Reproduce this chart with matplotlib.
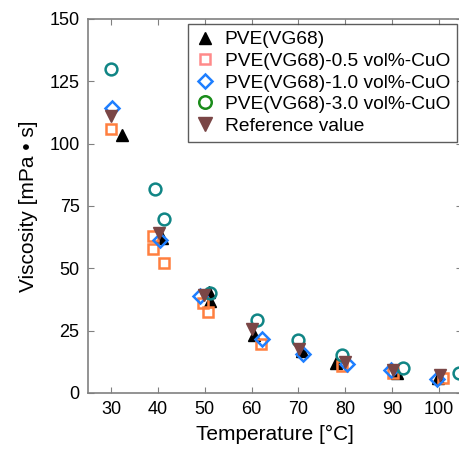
"""
Viscosity vs temperature for PVE(VG68) with CuO nanoparticles
"""

import matplotlib
matplotlib.use('Agg')
import matplotlib.pyplot as plt
from matplotlib.lines import Line2D

plt.rcParams['font.family'] = ['Liberation Sans', 'DejaVu Sans']

# PVE(VG68) base oil
base_T = [32.3, 40.8, 50.8, 51.0, 60.4, 70.7, 78.1, 91.0, 99.8]
base_V = [103.5, 62.0, 40.6, 37.0, 23.3, 16.6, 11.9, 8.0, 6.0]

# 0.5 vol% CuO
cuo05_T = [30.0, 38.9, 38.9, 41.3, 49.6, 50.6, 62.0, 79.2, 90.3, 100.9]
cuo05_V = [106.0, 62.8, 57.8, 52.0, 36.0, 32.6, 19.7, 10.6, 7.9, 5.8]

# 1.0 vol% CuO
cuo10_T = [30.2, 40.5, 49.0, 62.3, 71.0, 80.4, 89.8, 99.5]
cuo10_V = [114.2, 61.4, 38.9, 21.5, 15.6, 11.6, 9.0, 5.6]

# 3.0 vol% CuO
cuo30_T = [30.0, 39.4, 41.2, 51.1, 61.1, 69.8, 79.2, 92.4, 104.2]
cuo30_V = [130.0, 81.8, 69.8, 40.0, 29.3, 21.0, 15.2, 9.9, 7.9]

# reference values
ref_T = [30.0, 40.1, 49.8, 60.0, 70.2, 79.9, 90.3, 100.2]
ref_V = [111.0, 64.0, 39.3, 25.5, 17.6, 12.3, 9.2, 7.0]

labels = ['PVE(VG68)', 'PVE(VG68)-0.5 vol%-CuO', 'PVE(VG68)-1.0 vol%-CuO',
          'PVE(VG68)-3.0 vol%-CuO', 'Reference value']
x_ticks = [30, 40, 50, 60, 70, 80, 90, 100]
y_ticks = [0, 25, 50, 75, 100, 125, 150]

fig = plt.figure(figsize=(4.6, 4.5), dpi=100)
ax = fig.add_axes([0.191, 0.127, 0.814, 0.831])

ax.plot(base_T, base_V, '^', ms=8, color='black', ls='none')
ax.plot(cuo05_T, cuo05_V, 's', ms=7, mfc='none', mec='#FF7F3F', mew=1.8, ls='none')
ax.plot(cuo10_T, cuo10_V, 'D', ms=7, mfc='none', mec='#1E7FFF', mew=1.8, ls='none')
ax.plot(cuo30_T, cuo30_V, 'o', ms=8.5, mfc='none', mec='#108585', mew=1.8, ls='none')
ax.plot(ref_T, ref_V, 'v', ms=9, color='#7A4646', ls='none')

# legend uses slightly different colours than the data, as in the original
handles = [
    Line2D([], [], marker='^', ls='none', ms=9, color='black'),
    Line2D([], [], marker='s', ls='none', ms=7.5, mfc='none', mec='#FF8A8A', mew=1.8),
    Line2D([], [], marker='D', ls='none', ms=7.5, mfc='none', mec='#1E7FFF', mew=1.8),
    Line2D([], [], marker='o', ls='none', ms=9, mfc='none', mec='#1A8C1A', mew=1.8),
    Line2D([], [], marker='v', ls='none', ms=9.5, color='#7A4646'),
]
leg = ax.legend(handles, labels, loc='upper left', bbox_to_anchor=(0.268, 0.986),
                fontsize=13.8, frameon=True, fancybox=False, edgecolor='#333333',
                borderpad=0.35, labelspacing=0.22, handletextpad=0.45,
                handlelength=1.1, borderaxespad=0)
leg.get_frame().set_linewidth(1.0)

ax.set_xlim(25, 105)
ax.set_ylim(0, 150)
ax.set_xticks(x_ticks)
ax.set_yticks(y_ticks)
ax.tick_params(direction='in', top=True, right=True, labelsize=13, length=4,
               color='#808080', pad=6)
for s in ax.spines.values():
    s.set_color('#808080')
    s.set_linewidth(1.2)

ax.set_xlabel('Temperature [\u00b0C]', fontsize=15, labelpad=5)
ax.set_ylabel('Viscosity [mPa \u2022 s]', fontsize=15, labelpad=8)

fig.savefig('out.png', dpi=100)
